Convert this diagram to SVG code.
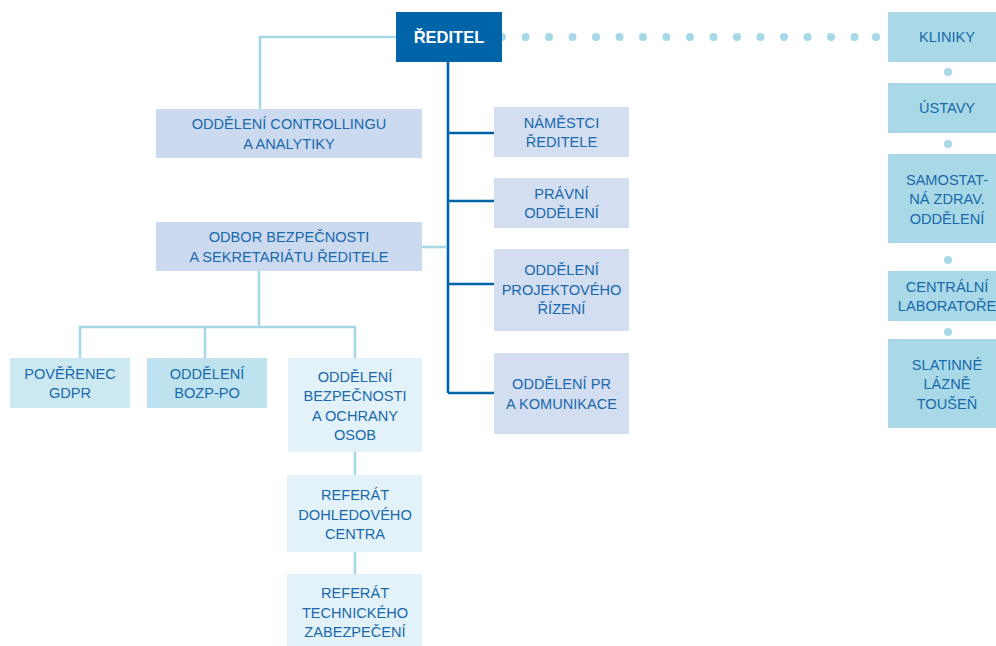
<svg xmlns="http://www.w3.org/2000/svg" width="996" height="646" viewBox="0 0 996 646">
<style>
text{font-family:"Liberation Sans",Arial,sans-serif;font-size:14.6px;fill:#1868AC;text-anchor:middle}
.lt{stroke:#A6D8E7;stroke-width:2.6;fill:none}
.dk{stroke:#0064A8;stroke-width:2.6;fill:none}
.dot{fill:#A6D8E7}
.b1{fill:#CCDAF0}
.b2{fill:#D3DEF1}
.b3{fill:#CCE9F2}
.b4{fill:#BEE3EE}
.b5{fill:#E3F2F8}
.b6{fill:#A9D9E7}
</style>
<g id="connectors">
<polyline class="lt" points="396,37 260,37 260,109"/>
<line class="dk" x1="448" y1="62" x2="448" y2="393"/>
<line class="dk" x1="448" y1="133" x2="494" y2="133"/>
<line class="dk" x1="448" y1="201" x2="494" y2="201"/>
<line class="dk" x1="448" y1="284" x2="494" y2="284"/>
<line class="dk" x1="448" y1="393" x2="494" y2="393"/>
<line class="lt" x1="422" y1="247" x2="447" y2="247"/>
<line class="lt" x1="259" y1="271" x2="259" y2="327"/>
<polyline class="lt" points="80,358 80,327 355,327 355,358"/>
<line class="lt" x1="205" y1="327" x2="205" y2="358"/>
<line class="lt" x1="355" y1="452" x2="355" y2="475"/>
<line class="lt" x1="355" y1="552" x2="355" y2="574"/>
<g class="dot">
<circle cx="502" cy="37" r="4"/><circle cx="525.5" cy="37" r="4"/><circle cx="549" cy="37" r="4"/><circle cx="572.5" cy="37" r="4"/><circle cx="596" cy="37" r="4"/><circle cx="619.5" cy="37" r="4"/><circle cx="643" cy="37" r="4"/><circle cx="666.5" cy="37" r="4"/><circle cx="690" cy="37" r="4"/><circle cx="713.5" cy="37" r="4"/><circle cx="737" cy="37" r="4"/><circle cx="760.5" cy="37" r="4"/><circle cx="784" cy="37" r="4"/><circle cx="807.5" cy="37" r="4"/><circle cx="831" cy="37" r="4"/><circle cx="854.5" cy="37" r="4"/><circle cx="876" cy="37" r="4"/>
<circle cx="948" cy="72" r="4"/><circle cx="948" cy="144" r="4"/><circle cx="948" cy="260" r="4"/><circle cx="948" cy="332" r="4"/>
</g>
</g>
<g id="reditel"><rect x="396" y="12" width="106" height="50" fill="#0064A8"/><text x="449" y="43" style="fill:#fff;font-weight:bold;font-size:16.5px">ŘEDITEL</text></g>
<g id="controlling"><rect class="b1" x="156" y="109" width="266" height="49"/><text x="289" y="129">ODDĚLENÍ CONTROLLINGU</text><text x="289" y="148.5">A ANALYTIKY</text></g>
<g id="odbor"><rect class="b1" x="156" y="222" width="266" height="49"/><text x="289" y="242">ODBOR BEZPEČNOSTI</text><text x="289" y="261.5">A SEKRETARIÁTU ŘEDITELE</text></g>
<g id="namestci"><rect class="b2" x="494" y="107" width="135" height="50"/><text x="561.5" y="127.5">NÁMĚSTCI</text><text x="561.5" y="147">ŘEDITELE</text></g>
<g id="pravni"><rect class="b2" x="494" y="178" width="135" height="50"/><text x="561.5" y="198.5">PRÁVNÍ</text><text x="561.5" y="218">ODDĚLENÍ</text></g>
<g id="projektove"><rect class="b2" x="494" y="249" width="135" height="82"/><text x="561.5" y="275">ODDĚLENÍ</text><text x="561.5" y="294.5">PROJEKTOVÉHO</text><text x="561.5" y="314">ŘÍZENÍ</text></g>
<g id="pr"><rect class="b2" x="494" y="353" width="135" height="81"/><text x="561.5" y="389">ODDĚLENÍ PR</text><text x="561.5" y="408.5">A KOMUNIKACE</text></g>
<g id="poverenec"><rect class="b3" x="10" y="358" width="120" height="50"/><text x="70" y="378.5">POVĚŘENEC</text><text x="70" y="398">GDPR</text></g>
<g id="bozp"><rect class="b4" x="147" y="358" width="120" height="50"/><text x="207" y="378.5">ODDĚLENÍ</text><text x="207" y="398">BOZP-PO</text></g>
<g id="bezpecnosti"><rect class="b5" x="288" y="358" width="134" height="94"/><text x="355" y="381.5">ODDĚLENÍ</text><text x="355" y="401">BEZPEČNOSTI</text><text x="355" y="420.5">A OCHRANY</text><text x="355" y="440">OSOB</text></g>
<g id="dohled"><rect class="b5" x="287" y="475" width="135" height="77"/><text x="355" y="500">REFERÁT</text><text x="355" y="519.5">DOHLEDOVÉHO</text><text x="355" y="539">CENTRA</text></g>
<g id="technicke"><rect class="b5" x="287" y="574" width="135" height="74"/><text x="355" y="598">REFERÁT</text><text x="355" y="617.5">TECHNICKÉHO</text><text x="355" y="637">ZABEZPEČENÍ</text></g>
<g id="kliniky"><rect class="b6" x="888" y="12" width="120" height="50"/><text x="947" y="42">KLINIKY</text></g>
<g id="ustavy"><rect class="b6" x="888" y="83" width="120" height="50"/><text x="947" y="113">ÚSTAVY</text></g>
<g id="samostatna"><rect class="b6" x="888" y="154" width="120" height="89"/><text x="947" y="184.5">SAMOSTAT-</text><text x="947" y="204">NÁ ZDRAV.</text><text x="947" y="223.5">ODDĚLENÍ</text></g>
<g id="laboratore"><rect class="b6" x="888" y="271" width="120" height="50"/><text x="947" y="291.5">CENTRÁLNÍ</text><text x="947" y="311">LABORATOŘE</text></g>
<g id="slatinne"><rect class="b6" x="888" y="339" width="120" height="89"/><text x="947" y="369.5">SLATINNÉ</text><text x="947" y="389">LÁZNĚ</text><text x="947" y="408.5">TOUŠEŇ</text></g>
</svg>
